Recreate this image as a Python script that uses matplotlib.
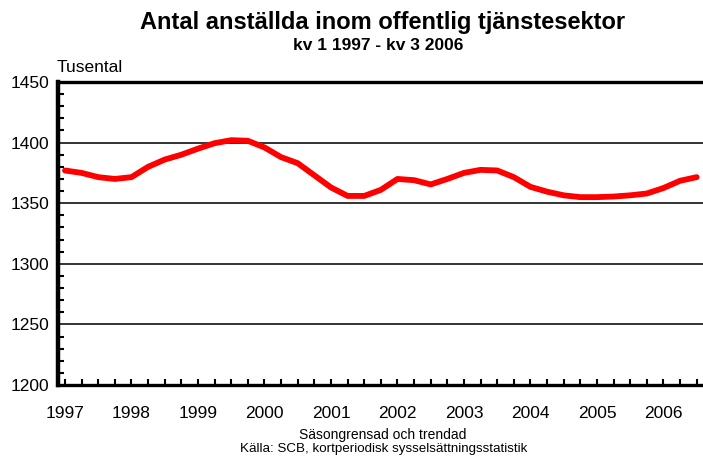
import matplotlib
matplotlib.use("Agg")
import matplotlib.pyplot as plt
from matplotlib.ticker import MultipleLocator, FixedLocator

plt.rcParams['font.family'] = ['Liberation Sans', 'DejaVu Sans']

# Quarterly values, kv1 1997 - kv3 2006 (tusental)
values = [1377, 1375, 1371.5, 1370, 1371.5, 1380, 1386, 1390, 1395, 1399.5,
          1402, 1401.5, 1396, 1388, 1383, 1373, 1363, 1356, 1356, 1361,
          1370, 1369, 1365.5, 1370, 1375, 1377.5, 1377, 1371.5, 1363.5, 1359.5,
          1356.5, 1355, 1355, 1355.5, 1356.5, 1358, 1362.5, 1368.5, 1371.5]
years = ['1997', '1998', '1999', '2000', '2001', '2002', '2003', '2004', '2005', '2006']
yticks = [1200, 1250, 1300, 1350, 1400, 1450]

title = 'Antal anställda inom offentlig tjänstesektor'
subtitle = 'kv 1 1997 - kv 3 2006'
ylabel = 'Tusental'
note1 = 'Säsongrensad och trendad'
note2 = 'Källa: SCB, kortperiodisk sysselsättningsstatistik'

fig = plt.figure(figsize=(7.03, 4.57), dpi=100)
ax = fig.add_axes([58/703, 72/457, (703-58)/703, 303/457])

x = list(range(len(values)))
ax.plot(x, values, color='#FF0000', linewidth=4.2, solid_capstyle='round',
        solid_joinstyle='round', zorder=3)

ax.set_xlim(-0.42, 38.38)
ax.set_ylim(1200, 1450)

for v in yticks[1:-1]:
    ax.axhline(v, color='#111111', linewidth=1.2, zorder=1)

ax.set_yticks(yticks)
ax.yaxis.set_minor_locator(MultipleLocator(10))
ax.set_xticks([4 * i for i in range(len(years))])
ax.set_xticklabels(years)
ax.xaxis.set_minor_locator(FixedLocator(x))

ax.tick_params(axis='y', which='major', direction='in', length=0, labelsize=12.5, pad=6)
ax.tick_params(axis='y', which='minor', direction='in', length=4.5, width=1.5, color='black')
ax.tick_params(axis='x', which='major', direction='in', length=4.5, width=1.5, labelsize=12.5, pad=15)
ax.tick_params(axis='x', which='minor', direction='in', length=4.5, width=1.5)

ax.spines['left'].set_linewidth(3.2)
for s in ['bottom', 'top']:
    ax.spines[s].set_linewidth(2.4)
ax.spines['right'].set_visible(False)

fig.text(383/703, 1 - 22/457, title, ha='center', va='center', fontsize=17, fontweight='bold')
fig.text(378/703, 1 - 45/457, subtitle, ha='center', va='center', fontsize=12.5, fontweight='bold')
fig.text(57/703, 1 - 68/457, ylabel, ha='left', va='center', fontsize=12.5)
fig.text(383/703, 1 - 435/457, note1, ha='center', va='center', fontsize=10)
fig.text(384/703, 1 - 449/457, note2, ha='center', va='center', fontsize=9.6)

fig.savefig('out.png', dpi=100)
